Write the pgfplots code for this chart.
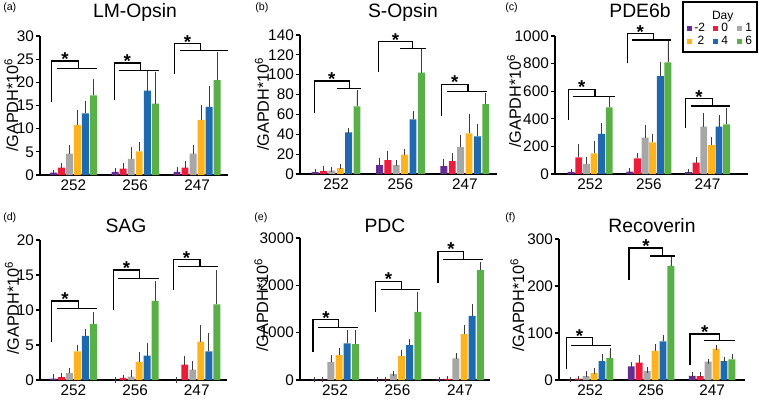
\documentclass[border=0pt]{standalone}
\usepackage{pgfplots}
\pgfplotsset{compat=1.18}
\usepackage{pgfplotstable}
\usepackage{fontspec}
\setmainfont{Liberation Sans}

\definecolor{cA}{RGB}{102,45,145}
\definecolor{cB}{RGB}{237,28,58}
\definecolor{cC}{RGB}{167,167,167}
\definecolor{cD}{RGB}{255,180,30}
\definecolor{cE}{RGB}{30,105,175}
\definecolor{cF}{RGB}{88,176,70}
\definecolor{errc}{RGB}{60,60,60}

\pgfplotsset{
  panel/.style={
    scale only axis, anchor=south west, clip=false,
    ybar, bar width=5.2pt,
    ymin=0,
    axis x line*=bottom, axis y line*=left,
    axis line style={line width=0.9pt, black, -},
    xtick={0,1,2}, xticklabels={252,256,247},
    x tick style={draw=none},
    ytick style={line width=0.9pt, black},
    tick align=outside, major tick length=2.7pt,
    tick label style={font=\fontsize{11.5}{11.5}\selectfont},
    xticklabel style={yshift=3pt},
    yticklabel style={xshift=1.6pt},
    /pgf/number format/assume math mode=true,
    /pgf/number format/1000 sep={},
    scaled y ticks=false,
  },
  barsty/.style={bar shift=0pt, draw=none,
    /pgfplots/error bars/y dir=plus,
    /pgfplots/error bars/y explicit,
    /pgfplots/error bars/error bar style={line width=0.6pt, errc},
    /pgfplots/error bars/error mark options={line width=0.6pt, errc, mark size=2pt}},
}
\tikzset{brk/.style={line width=1pt, black},
  star/.style={anchor=base, inner sep=0pt, yshift=-3.5pt, font=\bfseries\fontsize{14}{14}\selectfont},
  ttl/.style={anchor=base, inner sep=0pt, font=\fontsize{14.5}{14.5}\selectfont},
  plab/.style={anchor=base west, inner sep=0pt, font=\fontsize{8}{8}\selectfont},
  ylab/.style={rotate=90, inner sep=0pt, font=\fontsize{12.2}{12.2}\selectfont}}

\newcommand\sixbars[1]{%
  \addplot[fill=cA, barsty] table[x expr=\thisrow{g}-0.325, y=m1, y error=e1]{#1};
  \addplot[fill=cB, barsty] table[x expr=\thisrow{g}-0.195, y=m2, y error=e2]{#1};
  \addplot[fill=cC, barsty] table[x expr=\thisrow{g}-0.065, y=m3, y error=e3]{#1};
  \addplot[fill=cD, barsty] table[x expr=\thisrow{g}+0.065, y=m4, y error=e4]{#1};
  \addplot[fill=cE, barsty] table[x expr=\thisrow{g}+0.195, y=m5, y error=e5]{#1};
  \addplot[fill=cF, barsty] table[x expr=\thisrow{g}+0.325, y=m6, y error=e6]{#1};
}
\newcommand\br[8]{%
  \draw[brk] (axis cs:#1,#5) -- (axis cs:#1,#6) -- (axis cs:#2,#6) -- (axis cs:#2,#7);
  \draw[brk] (axis cs:#3,#7) -- (axis cs:#4,#7);
  \node[star] at (axis cs:#8,#6) {*};}

% LM-Opsin
\pgfplotstableread{
g m1 m2 m3 m4 m5 m6 e1 e2 e3 e4 e5 e6
0 0.5 1.6 4.6 10.8 13.3 17.2 0.1 0.5 1.2 2.7 2.0 3.0
1 0.7 1.4 3.5 5.1 18.2 15.4 0.3 0.6 1.9 1.5 3.6 6.2
2 0.7 1.6 4.6 11.9 14.7 20.5 0.5 0.9 1.2 2.7 3.9 5.4
}\tabA
% S-Opsin
\pgfplotstableread{
g m1 m2 m3 m4 m5 m6 e1 e2 e3 e4 e5 e6
0 2 3 3.5 6 42 68 0.5 2 1 1.5 2 14
1 9 14 9 19.5 55 102 4 6 2 3 6 21
2 8 13 27 41 38 70.5 4 5.5 10 17 10 8.5
}\tabB
% PDE6b
\pgfplotstableread{
g m1 m2 m3 m4 m5 m6 e1 e2 e3 e4 e5 e6
0 15 121 72 150 290 483 3 77 34 67 58 58
1 18 113 263 229 710 809 3 22 70 41 85 135
2 14 82 343 210 343 360 3 19 82 36 65 96
}\tabC
% SAG
\pgfplotstableread{
g m1 m2 m3 m4 m5 m6 e1 e2 e3 e4 e5 e6
0 0.2 0.4 1.0 4.1 6.3 8.0 0.3 0.2 0.4 0.5 0.6 1.4
1 0 0.3 0.5 2.6 3.5 11.3 0 0 0.6 1.0 1.4 2.4
2 0 2.2 1.5 5.5 4.1 10.8 0 0.9 0.8 2.0 2.3 4.5
}\tabD
% PDC
\pgfplotstableread{
g m1 m2 m3 m4 m5 m6 e1 e2 e3 e4 e5 e6
0 10 10 380 527 773 759 0 0 90 91 225 239
1 10 10 128 506 738 1440 0 0 12 77 63 359
2 15 25 457 970 1356 2319 0 5 49 140 190 119
}\tabE
% Recoverin
\pgfplotstableread{
g m1 m2 m3 m4 m5 m6 e1 e2 e3 e4 e5 e6
0 1 3 8.5 15 40 47 0 0 4.3 4 10 15
1 29 37 19 62 82 243 4 11 2 8 9 13
2 9 8 39 67 40 44 2 3 1 2 4 6
}\tabF

\begin{document}
\begin{tikzpicture}
\useasboundingbox (0,0) rectangle (569.25pt,300pt);

% (a)
\begin{axis}[panel, at={(30pt,168.75pt)}, width=141pt, height=104.25pt,
  xmin=-0.54, xmax=2.5, ymax=30, ytick={0,5,...,30}]
\sixbars{\tabA}
\br{-0.35}{0.08}{-0.26}{0.38}{15.8}{24.6}{23.0}{-0.135}
\br{0.66}{1.08}{0.74}{1.39}{16.1}{24.2}{22.6}{0.87}
\br{1.64}{2.05}{1.72}{2.5}{21.8}{28.4}{26.8}{1.845}
\end{axis}

% (b)
\begin{axis}[panel, at={(225pt,169.5pt)}, width=147.75pt, height=104.25pt,
  xmin=-0.56, xmax=2.5, ymax=140, ytick={0,20,...,140}]
\sixbars{\tabB}
\br{-0.34}{0.21}{0.01}{0.39}{61.7}{93.8}{86}{-0.065}
\br{0.66}{1.19}{0.99}{1.39}{103}{133.6}{126.5}{0.925}
\br{1.64}{2.05}{1.72}{2.34}{58.4}{90.4}{83}{1.845}
\end{axis}

% (c)
\begin{axis}[panel, at={(416.25pt,169.5pt)}, width=144.75pt, height=103.5pt,
  xmin=-0.60, xmax=2.69, ymax=1000, ytick={0,200,...,1000}]
\sixbars{\tabC}
\br{-0.37}{0.08}{-0.29}{0.42}{391}{614}{560}{-0.145}
\br{0.63}{1.08}{0.72}{1.37}{802}{1019}{971}{0.855}
\br{1.63}{2.08}{1.71}{2.39}{331}{548}{493}{1.855}
\end{axis}

% (d)
\begin{axis}[panel, at={(30pt,15pt)}, width=140.25pt, height=105pt,
  xmin=-0.54, xmax=2.49, ymax=20, ytick={0,5,...,20}]
\sixbars{\tabD}
\br{-0.35}{0.08}{-0.26}{0.38}{5.5}{11.3}{10.2}{-0.135}
\br{0.65}{1.07}{0.73}{1.39}{10}{15.7}{14.5}{0.86}
\br{1.62}{2.05}{1.70}{2.35}{12.9}{17.2}{16.2}{1.835}
\end{axis}

% (e)
\begin{axis}[panel, at={(225pt,15pt)}, width=142.5pt, height=106.5pt,
  xmin=-0.56, xmax=2.48, ymax=3000, ytick={0,1000,...,3000}]
\sixbars{\tabE}
\br{-0.35}{0.06}{-0.27}{0.37}{597}{1279}{1110}{-0.145}
\br{0.65}{1.06}{0.73}{1.36}{1440}{2087}{1918}{0.855}
\br{1.65}{2.06}{1.73}{2.37}{2052}{2720}{2551}{1.855}
\end{axis}

% (f)
\begin{axis}[panel, at={(419.25pt,15pt)}, width=139.5pt, height=105.75pt,
  xmin=-0.51, xmax=2.54, ymax=300, ytick={0,100,...,300}]
\sixbars{\tabF}
\br{-0.39}{0.04}{-0.31}{0.35}{23}{90}{73}{-0.175}
\br{0.64}{1.19}{0.99}{1.39}{213}{281}{264}{0.915}
\br{1.64}{2.12}{1.86}{2.38}{32}{98}{84}{1.88}
\end{axis}

% titles
\node[ttl] at (101.25pt,287pt) {LM-Opsin};
\node[ttl] at (302.25pt,287pt) {S-Opsin};
\node[ttl] at (480pt,286.5pt) {PDE6b};
\node[ttl] at (94.5pt,125.25pt) {SAG};
\node[ttl] at (288.75pt,125.25pt) {PDC};
\node[ttl] at (489pt,125.25pt) {Recoverin};

% panel labels
\node[plab] at (2.25pt,291.75pt) {(a)};
\node[plab] at (191.25pt,291.75pt) {(b)};
\node[plab] at (378.75pt,291.75pt) {(c)};
\node[plab] at (2.25pt,135pt) {(d)};
\node[plab] at (190.5pt,135pt) {(e)};
\node[plab] at (378.75pt,135pt) {(f)};

% y labels
\node[ylab] at (8.5pt,221.25pt) {/GAPDH*10\textsuperscript{6}};
\node[ylab] at (196.5pt,222pt) {/GAPDH*10\textsuperscript{6}};
\node[ylab] at (385.5pt,224.25pt) {/GAPDH*10\textsuperscript{6}};
\node[ylab] at (9pt,69pt) {/GAPDH*10\textsuperscript{6}};
\node[ylab] at (196pt,71.25pt) {/GAPDH*10\textsuperscript{6}};
\node[ylab] at (388pt,71.25pt) {/GAPDH*10\textsuperscript{6}};

% legend
\draw[line width=0.8pt] (512.25pt,261pt) rectangle (567.75pt,298.5pt);
\begin{scope}[every node/.style={inner sep=0pt, font=\fontsize{9}{9}\selectfont}]
\node[anchor=base] at (542pt,285pt) {Day};
\fill[cA] (515.2pt,276.7pt) rectangle ++(3.9pt,3.9pt);
\node[anchor=base west] at (520.5pt,276pt) {-2};
\fill[cB] (534.7pt,276.7pt) rectangle ++(3.9pt,3.9pt);
\node[anchor=base west] at (540.75pt,276pt) {0};
\fill[cC] (552.7pt,276.7pt) rectangle ++(3.9pt,3.9pt);
\node[anchor=base west] at (558.75pt,276pt) {1};
\fill[cD] (515.2pt,267pt) rectangle ++(3.9pt,3.9pt);
\node[anchor=base west] at (523pt,266.25pt) {2};
\fill[cE] (534.7pt,267pt) rectangle ++(3.9pt,3.9pt);
\node[anchor=base west] at (540.75pt,266.25pt) {4};
\fill[cF] (552.7pt,267pt) rectangle ++(3.9pt,3.9pt);
\node[anchor=base west] at (558.75pt,266.25pt) {6};
\end{scope}
\end{tikzpicture}
\end{document}
